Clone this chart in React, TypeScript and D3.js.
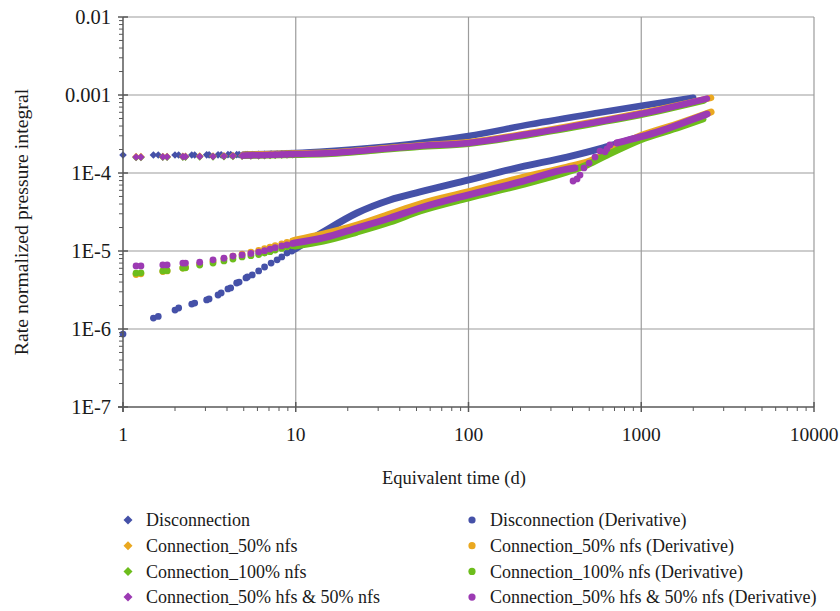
import * as d3 from "d3";

// series colours
const BLUE = "#4551a8";
const ORANGE = "#eaa820";
const GREEN = "#6dbd1c";
const PURPLE = "#9c3ab3";

// axis ticks
const xTicks = [1, 10, 100, 1000, 10000];
const xTickLabels = ["1", "10", "100", "1000", "10000"];
const yTicks = [1e-7, 1e-6, 1e-5, 1e-4, 1e-3, 1e-2];
const yTickLabels = ["1E-7", "1E-6", "1E-5", "1E-4", "0.001", "0.01"];

// early (separately visible) points, Disconnection
const discEarlyTime = [1, 1.5, 1.6, 2, 2.1, 2.5, 2.6, 3.05, 3.15, 3.55, 3.7, 4.05, 4.2, 4.55, 4.7, 5.15, 5.25, 5.6, 6.1, 6.6, 7.2, 7.8, 8.3, 8.9, 9.5];
const discEarlyPressure = [1.70e-4, 1.70e-4, 1.70e-4, 1.70e-4, 1.70e-4, 1.70e-4, 1.70e-4, 1.71e-4, 1.71e-4, 1.71e-4, 1.71e-4, 1.72e-4, 1.72e-4, 1.72e-4, 1.72e-4, 1.72e-4, 1.73e-4, 1.73e-4, 1.74e-4, 1.74e-4, 1.75e-4, 1.75e-4, 1.76e-4, 1.77e-4, 1.78e-4];
const discEarlyDeriv = [8.6e-7, 1.38e-6, 1.45e-6, 1.75e-6, 1.86e-6, 2.09e-6, 2.15e-6, 2.36e-6, 2.43e-6, 2.73e-6, 2.9e-6, 3.26e-6, 3.36e-6, 3.89e-6, 4.0e-6, 4.51e-6, 4.65e-6, 4.94e-6, 5.55e-6, 6.24e-6, 7.0e-6, 7.7e-6, 8.4e-6, 9.4e-6, 1.0e-5];

// early points, the three connection cases
const connEarlyTime = [1.19, 1.27, 1.7, 1.8, 2.22, 2.3, 2.78, 3.32, 3.84, 4.33, 4.89, 5.5, 6.1, 6.6, 7.1, 7.6, 8.3, 8.9, 9.6];
const c50EarlyPressure = [1.62e-4, 1.62e-4, 1.63e-4, 1.63e-4, 1.64e-4, 1.64e-4, 1.65e-4, 1.65e-4, 1.66e-4, 1.67e-4, 1.68e-4, 1.69e-4, 1.7e-4, 1.71e-4, 1.72e-4, 1.73e-4, 1.74e-4, 1.75e-4, 1.76e-4];
const c100EarlyPressure = [1.58e-4, 1.58e-4, 1.59e-4, 1.59e-4, 1.6e-4, 1.6e-4, 1.61e-4, 1.61e-4, 1.62e-4, 1.63e-4, 1.64e-4, 1.65e-4, 1.66e-4, 1.67e-4, 1.68e-4, 1.69e-4, 1.7e-4, 1.71e-4, 1.72e-4];
const hfsEarlyPressure = [1.6e-4, 1.6e-4, 1.61e-4, 1.61e-4, 1.62e-4, 1.62e-4, 1.63e-4, 1.63e-4, 1.64e-4, 1.65e-4, 1.66e-4, 1.67e-4, 1.68e-4, 1.69e-4, 1.7e-4, 1.71e-4, 1.72e-4, 1.73e-4, 1.74e-4];
const c50EarlyDeriv = [5.0e-6, 5.1e-6, 5.45e-6, 5.55e-6, 6.05e-6, 6.15e-6, 6.8e-6, 7.4e-6, 8.0e-6, 8.6e-6, 9.1e-6, 9.7e-6, 1.02e-5, 1.07e-5, 1.12e-5, 1.17e-5, 1.23e-5, 1.29e-5, 1.35e-5];
const c100EarlyDeriv = [5.2e-6, 5.25e-6, 5.55e-6, 5.6e-6, 6.05e-6, 6.1e-6, 6.6e-6, 7.0e-6, 7.45e-6, 7.9e-6, 8.4e-6, 8.7e-6, 9.0e-6, 9.4e-6, 9.8e-6, 1.03e-5, 1.08e-5, 1.13e-5, 1.17e-5];
const hfsEarlyDeriv = [6.43e-6, 6.43e-6, 6.62e-6, 6.62e-6, 7.0e-6, 7.0e-6, 7.2e-6, 7.7e-6, 8.1e-6, 8.6e-6, 8.9e-6, 9.3e-6, 9.7e-6, 1.01e-5, 1.06e-5, 1.1e-5, 1.16e-5, 1.2e-5, 1.25e-5];

// dense part of each series (markers overlap into a band)
const discTraceTime = [5, 10, 16, 27, 52, 100, 227, 555, 985, 2000];
const discTracePressure = [1.73e-4, 1.8e-4, 1.92e-4, 2.1e-4, 2.43e-4, 2.98e-4, 4.2e-4, 5.88e-4, 7.23e-4, 9.2e-4];
const c50TraceTime = [5, 10, 16, 27, 52, 100, 227, 555, 985, 2535];
const c50TracePressure = [1.71e-4, 1.78e-4, 1.83e-4, 2.0e-4, 2.26e-4, 2.48e-4, 3.25e-4, 4.6e-4, 5.85e-4, 9.2e-4];
const c100TraceTime = [5, 10, 16, 27, 52, 100, 227, 555, 985, 2300];
const c100TracePressure = [1.66e-4, 1.72e-4, 1.77e-4, 1.93e-4, 2.17e-4, 2.37e-4, 3.1e-4, 4.38e-4, 5.55e-4, 8.5e-4];
const hfsTraceTime = [5, 10, 16, 27, 52, 100, 227, 555, 985, 2400];
const hfsTracePressure = [1.68e-4, 1.75e-4, 1.8e-4, 1.97e-4, 2.22e-4, 2.43e-4, 3.18e-4, 4.5e-4, 5.7e-4, 9.0e-4];

const discDerivTime = [9.9, 14.4, 22.6, 35.1, 52.4, 99, 199, 372, 601, 753, 1995];
const discDeriv = [1.06e-5, 1.75e-5, 3.07e-5, 4.51e-5, 5.71e-5, 8.1e-5, 1.19e-4, 1.6e-4, 2.1e-4, 2.43e-4, 4.64e-4];
const c50DerivTime = [9.9, 14.4, 22.6, 35.1, 52.4, 99, 199, 372, 485, 984, 1677, 2535];
const c50Deriv = [1.38e-5, 1.65e-5, 2.15e-5, 2.98e-5, 4.0e-5, 5.71e-5, 8.6e-5, 1.19e-4, 1.38e-4, 2.98e-4, 4.37e-4, 6.05e-4];
const c100DerivTime = [9.9, 14.4, 22.6, 35.1, 52.4, 99, 199, 372, 485, 634, 984, 1677, 2275];
const c100Deriv = [1.16e-5, 1.34e-5, 1.75e-5, 2.35e-5, 3.26e-5, 4.78e-5, 7.0e-5, 1.03e-4, 1.27e-4, 1.7e-4, 2.65e-4, 3.89e-4, 4.92e-4];
const hfsDerivTimeA = [9.9, 14.4, 22.6, 35.1, 52.4, 99, 199, 372, 413];
const hfsDerivA = [1.27e-5, 1.47e-5, 1.97e-5, 2.65e-5, 3.56e-5, 5.22e-5, 7.67e-5, 1.12e-4, 1.16e-4];
const hfsJumpTime = [403, 425, 442, 466, 499, 540, 577, 617, 634, 659, 724];
const hfsJump = [7.9e-5, 8.4e-5, 9.4e-5, 1.16e-4, 1.34e-4, 1.6e-4, 1.91e-4, 1.87e-4, 2.04e-4, 2.29e-4, 2.43e-4];
const hfsDerivTimeB = [724, 984, 1284, 1677, 2404];
const hfsDerivB = [2.43e-4, 2.9e-4, 3.45e-4, 4.25e-4, 5.7e-4];

const legendNames = [
  "Disconnection",
  "Connection_50% nfs",
  "Connection_100% nfs",
  "Connection_50% hfs & 50% nfs",
];
const legendColors = [BLUE, ORANGE, GREEN, PURPLE];

const zip = (t: number[], v: number[]) => t.map((d, i) => [d, v[i]] as [number, number]);

const FONT = '"Liberation Serif", "Times New Roman", serif';
const textStyle = { fontFamily: FONT };

export default function App() {
  const width = 840;
  const height = 611;
  const x = d3.scaleLog().domain([1, 10000]).range([123, 814]);
  const y = d3.scaleLog().domain([1e-7, 1e-2]).range([407, 17]);

  const line = d3
    .line<[number, number]>()
    .x((d) => x(d[0]))
    .y((d) => y(d[1]))
    .curve(d3.curveMonotoneX);

  const diamond = (cx: number, cy: number, r: number) =>
    `M${cx},${cy - r}L${cx + r},${cy}L${cx},${cy + r}L${cx - r},${cy}Z`;

  // minor ticks 2..9 per decade
  const xMinor: number[] = [];
  for (let p = 0; p < 4; p++) for (let k = 2; k < 10; k++) xMinor.push(k * 10 ** p);
  const yMinor: number[] = [];
  for (let p = -7; p < -2; p++) for (let k = 2; k < 10; k++) yMinor.push(k * 10 ** p);

  const pressureSeries = [
    { color: BLUE, early: zip(discEarlyTime, discEarlyPressure), trace: zip(discTraceTime, discTracePressure) },
    { color: ORANGE, early: zip(connEarlyTime, c50EarlyPressure), trace: zip(c50TraceTime, c50TracePressure) },
    { color: GREEN, early: zip(connEarlyTime, c100EarlyPressure), trace: zip(c100TraceTime, c100TracePressure) },
    { color: PURPLE, early: zip(connEarlyTime, hfsEarlyPressure), trace: zip(hfsTraceTime, hfsTracePressure) },
  ];
  const derivSeries = [
    { color: BLUE, early: zip(discEarlyTime, discEarlyDeriv), traces: [zip(discDerivTime, discDeriv)] },
    { color: ORANGE, early: zip(connEarlyTime, c50EarlyDeriv), traces: [zip(c50DerivTime, c50Deriv)] },
    { color: GREEN, early: zip(connEarlyTime, c100EarlyDeriv), traces: [zip(c100DerivTime, c100Deriv)] },
    {
      color: PURPLE,
      early: zip(connEarlyTime, hfsEarlyDeriv).concat(zip(hfsJumpTime, hfsJump)),
      traces: [zip(hfsDerivTimeA, hfsDerivA), zip(hfsDerivTimeB, hfsDerivB)],
    },
  ];

  const gridColor = "#9c9c9c";
  const axisColor = "#595959";
  const textColor = "#1a1a1a";

  return (
    <svg
      width={width}
      height={height}
      style={{ position: "absolute", left: 0, top: 0, background: "#fff" }}
    >
      {/* grid */}
      {xTicks.slice(1).map((t) => (
        <line key={"gx" + t} x1={x(t)} x2={x(t)} y1={y(1e-2)} y2={y(1e-7)} stroke={gridColor} strokeWidth={1.2} />
      ))}
      {yTicks.slice(1).map((t) => (
        <line key={"gy" + t} x1={x(1)} x2={x(10000)} y1={y(t)} y2={y(t)} stroke={gridColor} strokeWidth={1.2} />
      ))}

      {/* pressure integral: diamonds */}
      {pressureSeries.map((s, i) => (
        <g key={"p" + i} fill={s.color}>
          <path d={line(s.trace) || ""} fill="none" stroke={s.color} strokeWidth={6.5} strokeLinecap="round" />
          {s.early.map((d, j) => (
            <path key={j} d={diamond(x(d[0]), y(d[1]), 3.8)} />
          ))}
        </g>
      ))}

      {/* derivative: circles */}
      {derivSeries.map((s, i) => (
        <g key={"d" + i} fill={s.color}>
          {s.traces.map((tr, k) => (
            <path key={k} d={line(tr) || ""} fill="none" stroke={s.color} strokeWidth={7} strokeLinecap="round" />
          ))}
          {s.early.map((d, j) => (
            <circle key={j} cx={x(d[0])} cy={y(d[1])} r={3.4} />
          ))}
        </g>
      ))}

      {/* axes */}
      <line x1={x(1)} x2={x(1)} y1={y(1e-2)} y2={y(1e-7) + 5} stroke={axisColor} strokeWidth={1.5} />
      <line x1={x(1) - 5} x2={x(10000)} y1={y(1e-7)} y2={y(1e-7)} stroke={axisColor} strokeWidth={1.5} />
      {yTicks.map((t) => (
        <line key={"ty" + t} x1={x(1) - 5} x2={x(1) + 5} y1={y(t)} y2={y(t)} stroke={axisColor} strokeWidth={1.5} />
      ))}
      {yMinor.map((t) => (
        <line key={"my" + t} x1={x(1) - 4} x2={x(1)} y1={y(t)} y2={y(t)} stroke={axisColor} strokeWidth={1} />
      ))}
      {xTicks.map((t) => (
        <line key={"tx" + t} x1={x(t)} x2={x(t)} y1={y(1e-7) - 5} y2={y(1e-7) + 5} stroke={axisColor} strokeWidth={1.5} />
      ))}
      {xMinor.map((t) => (
        <line key={"mx" + t} x1={x(t)} x2={x(t)} y1={y(1e-7)} y2={y(1e-7) + 4} stroke={axisColor} strokeWidth={1} />
      ))}

      {/* tick labels */}
      {yTicks.map((t, i) => (
        <text key={"ly" + t} x={x(1) - 12} y={y(t)} dy="0.35em" textAnchor="end" fontSize={20.5} fill={textColor} style={textStyle}>
          {yTickLabels[i]}
        </text>
      ))}
      {xTicks.map((t, i) => (
        <text key={"lx" + t} x={x(t)} y={y(1e-7) + 34} textAnchor="middle" fontSize={19.5} fill={textColor} style={textStyle}>
          {xTickLabels[i]}
        </text>
      ))}

      {/* axis titles */}
      <text x={454} y={484} textAnchor="middle" fontSize={18.5} fill={textColor} style={textStyle}>
        Equivalent time (d)
      </text>
      <text
        transform="translate(28,222) rotate(-90)"
        textAnchor="middle"
        fontSize={19.8}
        fill={textColor}
        style={textStyle}
      >
        Rate normalized pressure integral
      </text>

      {/* legend */}
      {legendNames.map((name, i) => {
        const ly = 520 + i * 25.7;
        return (
          <g key={"lg" + i}>
            <path d={diamond(128, ly, 4.5)} fill={legendColors[i]} />
            <text x={146} y={ly} dy="0.35em" fontSize={18} fill={textColor} style={textStyle}>
              {name}
            </text>
            <circle cx={472} cy={ly} r={3.6} fill={legendColors[i]} />
            <text x={490} y={ly} dy="0.35em" fontSize={18} fill={textColor} style={textStyle}>
              {name} (Derivative)
            </text>
          </g>
        );
      })}
    </svg>
  );
}
